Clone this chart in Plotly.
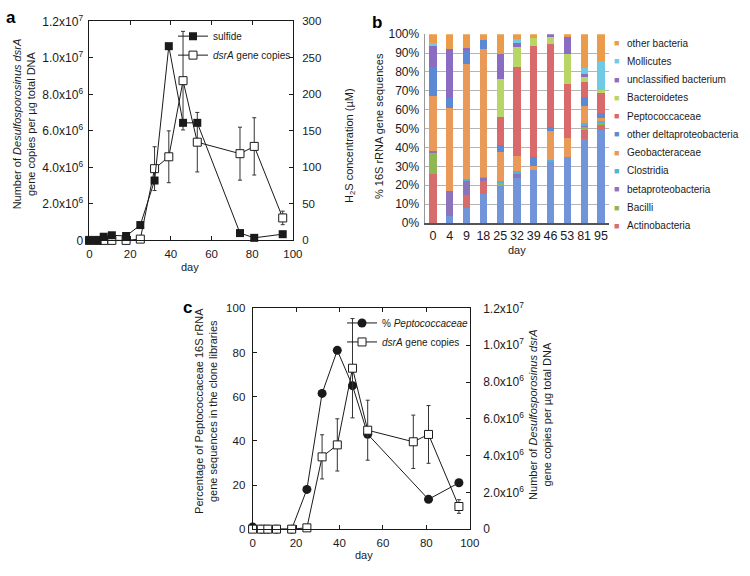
import plotly.graph_objects as go

W, H = 750, 576

# ---- panel a: sulfide and dsrA over time
days_a = [0, 4, 7, 11, 18, 25, 32, 39, 46, 53, 74, 81, 95]
sulfide_uM = [0, 0, 5, 7, 6, 21, 82, 266, 161, 161, 10, 3.5, 8.5]
dsra_copies = [0, 0, 0, 0, 0, 0.07e6, 3.93e6, 4.58e6, 8.75e6, 5.38e6, 4.75e6, 5.15e6, 1.23e6]
dsra_err = [0, 0, 0, 0, 0, 0, 1.2e6, 1.42e6, 2.7e6, 1.63e6, 1.45e6, 1.57e6, 0.37e6]

# ---- panel b: clone library composition (%)
clone_days = ["0", "4", "9", "18", "25", "32", "39", "46", "53", "81", "95"]
base_blue = [0, 3.4, 7.7, 15.5, 19.8, 23.7, 28, 32.1, 34.7, 44.7, 49]
actinobacteria = [25.8, 0, 6.9, 6.8, 0, 0, 0, 0, 0, 4.6, 2.9]
bacilli = [11.3, 0, 0, 0, 1.2, 0, 0, 0, 0, 1.5, 0.8]
betaproteobacteria = [1, 13.3, 7.7, 1.4, 0, 2.1, 0, 0, 0, 0.6, 0]
clostridia = [0, 0, 1.2, 0.7, 1.3, 1.7, 0, 1.4, 0, 1.4, 1.2]
geobacteraceae = [29.4, 44.3, 61, 68, 15.5, 7.7, 2, 15, 10.3, 9.1, 1.9]
other_delta = [15.3, 5.2, 6.6, 4.7, 3.4, 0, 4.9, 2.2, 0, 5.1, 2.3]
peptococcaceae = [0, 0, 0, 0, 15.2, 47.3, 58.7, 44.1, 28.9, 7.7, 10.6]
bacteroidetes = [0, 0, 0, 0, 20.1, 10.6, 4.3, 3.5, 15.8, 2.6, 1.7]
unclassified = [10.8, 26.2, 1.7, 0, 12.8, 2.3, 0, 1.7, 8.6, 1.4, 0]
mollicutes = [1.8, 0, 0, 0, 0, 2.2, 0, 0, 0, 3.4, 15.5]
other_bacteria = [4.6, 7.6, 7.2, 2.9, 10.7, 2.4, 2.1, 0, 1.7, 17.9, 14.1]
pct_ticks = list(range(0, 101, 10))
pct_labels = ["%d%%" % v for v in pct_ticks]

# ---- panel c: % Peptococcaceae vs dsrA
days_c = [0, 4, 7, 11, 18, 25, 32, 39, 46, 53, 81, 95]
pepto_pct = [1, 0, 0, 0, 0, 18, 61.5, 81, 65, 43, 13.5, 21]

FONT = "Liberation Sans, Arial, sans-serif"
INK = "#1a1a1a"


def px(x):
    return x / W


def py(y):
    return 1 - y / H


sci_vals = [0, 2e6, 4e6, 6e6, 8e6, 1e7, 1.2e7]
sci_text = ["0", "2.0x10<sup>6</sup>", "4.0x10<sup>6</sup>", "6.0x10<sup>6</sup>",
            "8.0x10<sup>6</sup>", "1.0x10<sup>7</sup>", "1.2x10<sup>7</sup>"]

fig = go.Figure()

# panel a traces
fig.add_trace(go.Scatter(
    x=days_a, y=dsra_copies, name="<i>dsrA</i> gene copies", mode="lines+markers",
    xaxis="x", yaxis="y", legend="legend",
    line=dict(color=INK, width=1),
    marker=dict(symbol="square", size=8, color="white", line=dict(color=INK, width=1)),
    error_y=dict(type="data", array=dsra_err, color="#333", thickness=1, width=2),
    cliponaxis=False, legendrank=2))
fig.add_trace(go.Scatter(
    x=days_a, y=sulfide_uM, name="sulfide", mode="lines+markers",
    xaxis="x", yaxis="y2", legend="legend",
    line=dict(color=INK, width=1),
    marker=dict(symbol="square", size=8, color=INK),
    cliponaxis=False, legendrank=1))

# panel b traces (bottom to top)
series_b = [
    ("unlisted", base_blue, "#7195d8", False),
    ("Actinobacteria", actinobacteria, "#d66c6c", True),
    ("Bacilli", bacilli, "#8fb752", True),
    ("betaproteobacteria", betaproteobacteria, "#8b74b9", True),
    ("Clostridia", clostridia, "#4fb4d7", True),
    ("Geobacteraceae", geobacteraceae, "#e99a58", True),
    ("other deltaproteobacteria", other_delta, "#5c88d4", True),
    ("Peptococcaceae", peptococcaceae, "#d9696a", True),
    ("Bacteroidetes", bacteroidetes, "#b7d665", True),
    ("unclassified bacterium", unclassified, "#8a6cc2", True),
    ("Mollicutes", mollicutes, "#6fcbe4", True),
    ("other bacteria", other_bacteria, "#eb9c4a", True),
]
for name, vals, col, _ in series_b:
    fig.add_trace(go.Bar(x=clone_days, y=vals, name=name, marker=dict(color=col, line=dict(width=0)),
                         xaxis="x2", yaxis="y3", showlegend=False))

# panel c traces
fig.add_trace(go.Scatter(
    x=days_c, y=pepto_pct, name="% <i>Peptococcaceae</i>", mode="lines+markers",
    xaxis="x3", yaxis="y4", legend="legend2",
    line=dict(color=INK, width=1),
    marker=dict(symbol="circle", size=9, color=INK),
    cliponaxis=False, legendrank=1))
fig.add_trace(go.Scatter(
    x=days_a, y=dsra_copies, name="<i>dsrA</i> gene copies", mode="lines+markers",
    xaxis="x3", yaxis="y5", legend="legend2",
    line=dict(color=INK, width=1),
    marker=dict(symbol="square", size=8, color="white", line=dict(color=INK, width=1)),
    error_y=dict(type="data", array=dsra_err, color="#333", thickness=1, width=2),
    cliponaxis=False, legendrank=2))

tick_font = dict(family=FONT, size=11.5, color=INK)
sci_font = dict(family=FONT, size=12, color=INK)
box_axis = dict(showgrid=False, zeroline=False, showline=True, linecolor=INK, linewidth=1,
                ticks="inside", ticklen=4, tickcolor=INK, tickfont=tick_font)

# panel b legend, drawn as text keys
annotations = []
legend_items = [s for s in series_b if s[3]][::-1]
for i, (name, _, col, _) in enumerate(legend_items):
    yc = 35 + i * 18.8
    annotations.append(dict(x=px(624), y=py(yc), xref="paper", yref="paper", text="■",
                            showarrow=False, font=dict(family=FONT, size=9, color=col),
                            xanchor="center", yanchor="middle"))
    annotations.append(dict(x=px(633), y=py(yc), xref="paper", yref="paper", text=name,
                            showarrow=False, font=dict(family=FONT, size=10, color=INK),
                            xanchor="left", yanchor="middle"))

title_font = dict(family=FONT, size=11, color=INK)
for txt, x, y, ang in [
    ("Number of <i>Desulfosporosinus dsrA</i><br>gene copies per µg total DNA", 21, 118, -90),
    ("H<sub>2</sub>S concentration (µM)", 353, 140, -90),
    ("day", 190, 265, 0),
    ("% 16S rRNA gene sequences", 382, 120, -90),
    ("day", 523, 248, 0),
    ("Percentage of Peptococcaceae 16S rRNA<br>gene sequences in the clone libraries", 206, 413, -90),
    ("Number of <i>Desulfosporosinus dsrA</i><br>gene copies per µg total DNA", 547, 417, -90),
    ("day", 367, 562, 0),
]:
    annotations.append(dict(x=px(x), y=py(y), xref="paper", yref="paper", text=txt, textangle=ang,
                            showarrow=False, font=title_font, xanchor="center", yanchor="middle"))

for lab, x, y in [("a", 8, 9), ("b", 381, 14), ("c", 188, 307)]:
    annotations.append(dict(x=px(x), y=py(y), xref="paper", yref="paper", text="<b>%s</b>" % lab,
                            showarrow=False, font=dict(family=FONT, size=17, color="black"),
                            xanchor="center", yanchor="middle"))

fig.update_layout(
    width=W, height=H, autosize=False,
    margin=dict(l=0, r=0, t=0, b=0),
    paper_bgcolor="white", plot_bgcolor="white",
    font=dict(family=FONT, color=INK),
    barmode="stack", bargap=0.57,
    annotations=annotations,
    xaxis=dict(box_axis, domain=[px(88), px(295)], anchor="y", range=[0, 100],
               tickvals=[0, 20, 40, 60, 80, 100], mirror="ticks", ticklabelstandoff=3),
    yaxis=dict(box_axis, domain=[py(238), py(12.7)], anchor="x", range=[0, 1.2e7],
               tickvals=sci_vals, ticktext=sci_text, mirror=True, tickfont=sci_font,
               ticklabelstandoff=3),
    yaxis2=dict(box_axis, overlaying="y", side="right", anchor="x", range=[0, 300],
                tickvals=[0, 50, 100, 150, 200, 250, 300], ticklabelstandoff=6),
    xaxis2=dict(domain=[px(429), px(617)], anchor="y3", type="category",
                showline=True, linecolor="#555", linewidth=1.5, ticks="",
                tickfont=dict(family=FONT, size=12.5, color=INK)),
    yaxis3=dict(domain=[py(220), py(26)], anchor="x2", range=[0, 100],
                tickvals=pct_ticks, ticktext=pct_labels,
                showgrid=True, gridcolor="#b5b5b5", gridwidth=1, zeroline=False,
                showline=True, linecolor="#999", linewidth=1, ticklabelstandoff=2,
                tickfont=dict(family=FONT, size=12, color=INK)),
    xaxis3=dict(box_axis, domain=[px(254), px(475)], anchor="y4", range=[0, 100],
                tickvals=[0, 20, 40, 60, 80, 100], mirror="ticks", ticklabelstandoff=3),
    yaxis4=dict(box_axis, domain=[py(535), py(308)], anchor="x3", range=[0, 100],
                tickvals=[0, 20, 40, 60, 80, 100], mirror=True, ticklabelstandoff=4),
    yaxis5=dict(box_axis, overlaying="y4", side="right", anchor="x3", range=[0, 1.2e7],
                tickvals=sci_vals, ticktext=sci_text, tickfont=sci_font, ticklabelstandoff=10),
    legend=dict(x=px(173), y=py(13), xanchor="left", yanchor="top", bgcolor="rgba(0,0,0,0)",
                font=dict(family=FONT, size=10, color=INK), traceorder="normal",
                borderwidth=0, tracegroupgap=0),
    legend2=dict(x=px(345), y=py(308), xanchor="left", yanchor="top", bgcolor="rgba(0,0,0,0)",
                 font=dict(family=FONT, size=10, color=INK), traceorder="normal",
                 borderwidth=0, tracegroupgap=0),
)

fig.write_html("out.html", config={"displayModeBar": False},
               post_script="document.body.style.margin='0';")
